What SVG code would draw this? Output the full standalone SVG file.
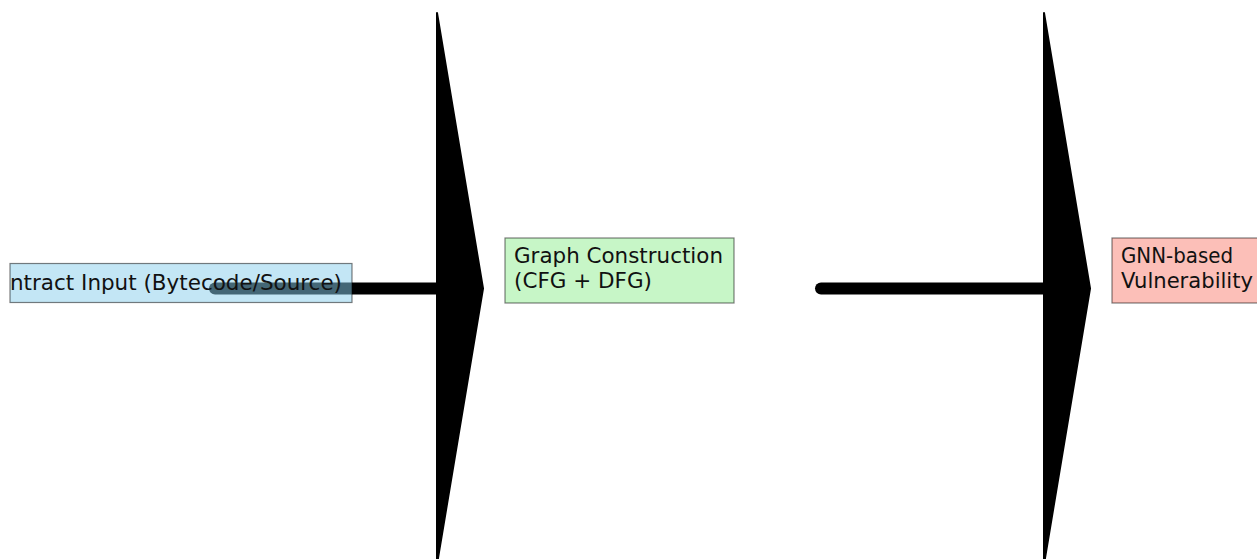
<svg xmlns="http://www.w3.org/2000/svg" width="1257" height="559" viewBox="0 0 1257 559">
  <style>
    .box { stroke: #000; stroke-opacity: 0.5; stroke-width: 1.2; fill-opacity: 0.5; }
    .lbl { font-family: "DejaVu Sans", sans-serif; font-size: 20.5px; fill: #111; }
    .shaft { stroke: #000; stroke-width: 12; stroke-linecap: round; fill: none; }
    .head { fill: #000; stroke: #000; stroke-width: 2; stroke-linejoin: round; }
  </style>
  <rect width="1257" height="559" fill="#fff"/>
  <g id="connectors">
    <g id="arrow1">
      <line class="shaft" x1="215" y1="288.5" x2="440" y2="288.5"/>
      <polygon class="head" points="437,13 483,288.5 437,564"/>
    </g>
    <g id="arrow2">
      <line class="shaft" x1="821" y1="288.5" x2="1047" y2="288.5"/>
      <polygon class="head" points="1044,13 1090,288.5 1044,564"/>
    </g>
  </g>
  <g id="node-input">
    <rect class="box" x="10" y="263.5" width="342" height="39" fill="#87ceeb"/>
    <text class="lbl" x="10" y="290" textLength="332" lengthAdjust="spacingAndGlyphs">ntract Input (Bytecode/Source)</text>
  </g>
  <g id="node-graph">
    <rect class="box" x="505" y="238" width="229" height="65" fill="#90ee90"/>
    <text class="lbl" x="514" y="263" textLength="209" lengthAdjust="spacingAndGlyphs">Graph Construction</text>
    <text class="lbl" x="514" y="288" textLength="138" lengthAdjust="spacingAndGlyphs">(CFG + DFG)</text>
  </g>
  <g id="node-gnn">
    <rect class="box" x="1112" y="238" width="160" height="65" fill="#fa8072"/>
    <text class="lbl" x="1121" y="263" textLength="112" lengthAdjust="spacingAndGlyphs">GNN-based</text>
    <text class="lbl" x="1121" y="288" textLength="132" lengthAdjust="spacingAndGlyphs">Vulnerability</text>
  </g>
</svg>
